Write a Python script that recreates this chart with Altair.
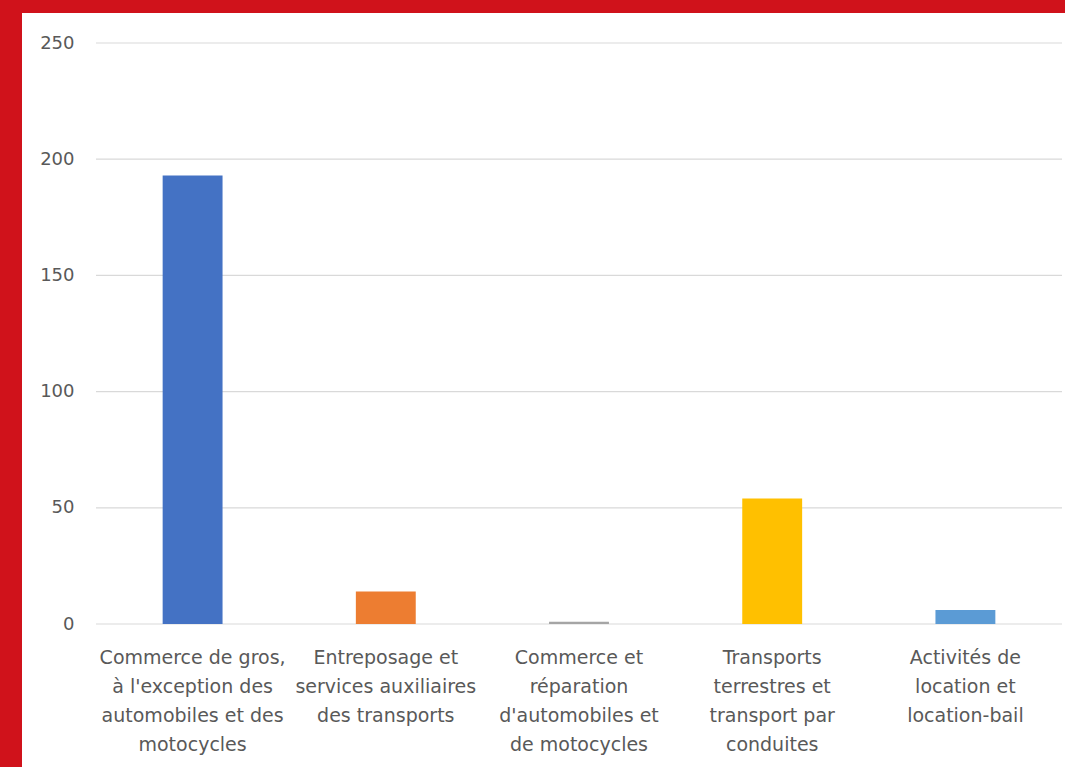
import altair as alt
import pandas as pd

categories = [
    "Commerce de gros,|à l'exception des|automobiles et des|motocycles",
    "Entreposage et|services auxiliaires|des transports",
    "Commerce et|réparation|d'automobiles et|de motocycles",
    "Transports|terrestres et|transport par|conduites",
    "Activités de|location et|location-bail",
]
values = [193, 14, 1, 54, 6]
colors = ["#4472C4", "#ED7D31", "#A5A5A5", "#FFC000", "#5B9BD5"]
y_ticks = [0, 50, 100, 150, 200, 250]

df = pd.DataFrame({"cat": categories, "val": values, "col": colors})
grid_df = pd.DataFrame({"val": y_ticks})

W, H = 966, 581

y_axis = alt.Axis(
    title=None,
    values=y_ticks,
    labelFont="DejaVu Sans",
    labelFontSize=18,
    labelColor="#595959",
    labelPadding=22,
    ticks=False,
    domain=False,
    grid=False,
    zindex=1,
)
y_scale = alt.Scale(domain=[0, 250], nice=False)

frame = alt.Chart(pd.DataFrame({"a": [0]})).mark_rect(color="white").encode(
    x=alt.value(-74), x2=alt.value(W + 10), y=alt.value(-30), y2=alt.value(H + 150)
)

grid = alt.Chart(grid_df).mark_rule(color="#d9d9d9", strokeWidth=1.2).encode(
    y=alt.Y("val:Q", scale=y_scale, axis=y_axis),
    x=alt.value(0),
    x2=alt.value(W),
)

bars = alt.Chart(df).mark_bar().encode(
    x=alt.X(
        "cat:N",
        sort=categories,
        scale=alt.Scale(paddingInner=0.69, paddingOuter=0.345),
        axis=alt.Axis(
            title=None,
            labelAngle=0,
            labelExpr="split(datum.label, '|')",
            labelFont="DejaVu Sans",
            labelFontSize=19,
            labelColor="#595959",
            labelLineHeight=29,
            labelBaseline="top",
            labelPadding=24,
            labelLimit=300,
            ticks=False,
            domain=False,
            grid=False,
            zindex=1,
        ),
    ),
    y=alt.Y("val:Q", scale=y_scale, axis=y_axis),
    color=alt.Color("col:N", scale=None, legend=None),
)

chart = (
    alt.layer(frame, grid, bars)
    .properties(
        width=W,
        height=H,
        background="#d0121b",
        padding={"left": 96, "top": 43, "right": 3, "bottom": 143},
        autosize=alt.AutoSizeParams(type="none"),
    )
    .configure_view(stroke=None)
)

chart.save("out.html", embed_options={"renderer": "svg", "actions": False})
